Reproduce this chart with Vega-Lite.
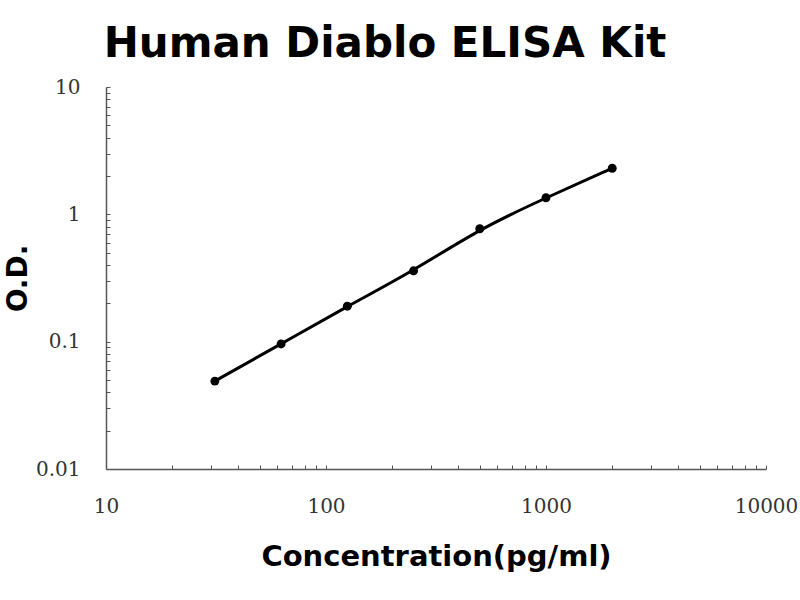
{
  "$schema": "https://vega.github.io/schema/vega-lite/v6.json",
  "width": 660,
  "height": 382,
  "autosize": {"type": "none"},
  "padding": {"left": 106, "top": 87, "right": 34, "bottom": 131},
  "background": "white",
  "title": {
    "text": "Human Diablo ELISA Kit",
    "font": "DejaVu Sans",
    "fontSize": 42,
    "fontWeight": "bold",
    "color": "#000000",
    "anchor": "middle",
    "offset": 11,
    "dx": -51
  },
  "data": {
    "values": [
      {"conc": 31.25, "od": 0.049},
      {"conc": 62.5, "od": 0.096},
      {"conc": 125, "od": 0.19},
      {"conc": 250, "od": 0.36},
      {"conc": 500, "od": 0.77},
      {"conc": 1000, "od": 1.35},
      {"conc": 2000, "od": 2.3}
    ]
  },
  "config": {
    "view": {"stroke": null},
    "axis": {
      "grid": false,
      "domainColor": "#555555",
      "domainWidth": 1.5,
      "tickColor": "#555555",
      "tickWidth": 1,
      "tickSize": -4,
      "labelFont": "DejaVu Serif",
      "labelFontSize": 20,
      "labelColor": "#333333",
      "titleFont": "DejaVu Sans",
      "titleFontWeight": "bold",
      "titleColor": "#000000"
    }
  },
  "layer": [
    {
      "mark": {"type": "line", "interpolate": "basis", "color": "#000000", "strokeWidth": 3},
      "encoding": {
        "x": {
          "field": "conc",
          "type": "quantitative",
          "scale": {"type": "log", "domain": [10, 10000]},
          "axis": {
            "title": "Concentration(pg/ml)",
            "titleFontSize": 29,
            "titlePadding": 26,
            "labelPadding": 31,
            "labelFontSize": 20,
            "labelFont": "DejaVu Serif",
            "values": [10,20,30,40,50,60,70,80,90,100,200,300,400,500,600,700,800,900,1000,2000,3000,4000,5000,6000,7000,8000,9000,10000],
            "labelExpr": "indexof([10,100,1000,10000], datum.value) >= 0 ? datum.value + '' : ''",
            "labelFlush": false,
            "labelOverlap": false
          }
        },
        "y": {
          "field": "od",
          "type": "quantitative",
          "scale": {"type": "log", "domain": [0.01, 10]},
          "axis": {
            "title": "O.D.",
            "titleFontSize": 28,
            "titlePadding": 3,
            "labelPadding": 30,
            "labelFontSize": 20,
            "labelFont": "DejaVu Serif",
            "values": [0.01,0.02,0.03,0.04,0.05,0.06,0.07,0.08,0.09,0.1,0.2,0.3,0.4,0.5,0.6,0.7,0.8,0.9,1,2,3,4,5,6,7,8,9,10],
            "labelExpr": "indexof([0.01,0.1,1,10], datum.value) >= 0 ? datum.value + '' : ''",
            "labelFlush": false,
            "labelOverlap": false
          }
        }
      }
    },
    {
      "mark": {"type": "point", "filled": true, "color": "#000000", "size": 80, "opacity": 1},
      "encoding": {
        "x": {"field": "conc", "type": "quantitative"},
        "y": {"field": "od", "type": "quantitative"}
      }
    }
  ]
}
